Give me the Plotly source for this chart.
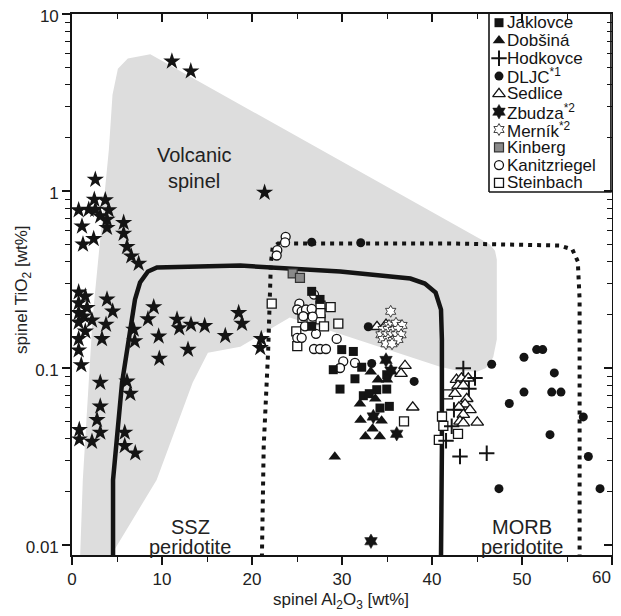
import plotly.graph_objects as go

# ---------------- data ----------------
# Volcanic spinel field (grey area)
field_x = [0.9, 1.2, 2.3, 4.1, 4.5, 5.1, 6.2, 8.7, 46.4, 47.0, 47.2, 47.2, 46.8, 46.0, 45.0, 42.6,
           40.9, 24.2, 18.7, 15.1, 13.4, 9.4, 4.2]
field_y = [0.0085, 0.0233, 0.195, 1.72, 3.5, 4.9, 5.6, 5.93, 0.50, 0.46, 0.41, 0.145, 0.115, 0.100,
           0.0953, 0.097, 0.1016, 0.193, 0.132, 0.122, 0.0826, 0.0233, 0.0085]

# SSZ peridotite boundary (solid line)
ssz_x = [4.56, 4.56, 5.56, 6.44, 7.0, 7.56, 8.44, 9.44, 18.7, 29.8, 37.6, 39.2, 40.4, 41.0, 41.1, 41.1, 41.0]
ssz_y = [0.0085, 0.0233, 0.0826, 0.165, 0.244, 0.304, 0.351, 0.370, 0.379, 0.351, 0.320, 0.300,
         0.267, 0.214, 0.145, 0.0344, 0.0085]

# MORB peridotite boundary (dotted line)
morb_x = [21.1, 21.3, 21.8, 22.1, 22.3, 22.9, 42.0, 54.2, 55.6, 56.2, 56.4, 56.4]
morb_y = [0.0085, 0.0359, 0.127, 0.394, 0.48, 0.505, 0.505, 0.492, 0.467, 0.40, 0.244, 0.0085]

# Volcanic spinels (stars, no legend entry)
star_x = [2.59, 2.48, 3.70, 0.74, 1.86, 2.59, 4.08, 3.14, 3.89, 1.11, 3.89, 2.41, 1.22, 5.74, 5.74,
          6.11, 6.59, 7.41, 0.74, 1.48, 0.74, 1.67, 0.74, 1.30, 2.22, 0.74, 1.48, 0.74, 0.74, 1.03,
          3.89, 4.52, 3.78, 3.33, 6.86, 6.97, 9.08, 8.44, 9.63, 9.70, 11.67, 11.92, 13.22, 14.74,
          12.89, 17.03, 18.52, 18.89, 21.03, 20.92, 3.14, 6.11, 6.48, 3.14, 2.78, 0.81, 3.14, 0.81,
          2.22, 5.86, 5.86, 7.03, 11.1, 13.2, 21.4]
star_y = [1.16, 0.895, 0.888, 0.780, 0.785, 0.785, 0.780, 0.721, 0.690, 0.632, 0.620, 0.537, 0.499,
          0.662, 0.575, 0.484, 0.428, 0.389, 0.268, 0.254, 0.233, 0.219, 0.205, 0.196, 0.186, 0.181,
          0.161, 0.146, 0.126, 0.104, 0.244, 0.209, 0.176, 0.146, 0.165, 0.142, 0.221, 0.189, 0.151,
          0.113, 0.188, 0.168, 0.176, 0.173, 0.127, 0.152, 0.205, 0.178, 0.146, 0.130, 0.0827,
          0.0840, 0.0716, 0.0607, 0.0509, 0.0448, 0.0432, 0.0396, 0.0384, 0.0432, 0.0363, 0.0330,
          5.4, 4.75, 0.98]

jak_x = [26.63, 27.56, 26.63, 29.97, 31.26, 29.03, 32.19, 31.44, 29.78, 33.86, 34.97, 32.37, 33.03,
         34.22, 35.26, 34.97]
jak_y = [0.271, 0.244, 0.172, 0.127, 0.124, 0.0978, 0.101, 0.0869, 0.0760, 0.0754, 0.0760, 0.0697,
         0.0716, 0.0594, 0.0607, 0.0916]

dob_x = [33.2, 34.0, 35.0, 32.0, 33.7, 32.06, 34.4, 33.4, 32.6, 34.2, 29.2]
dob_y = [0.0953, 0.0859, 0.0859, 0.0628, 0.0670, 0.0509, 0.0503, 0.0453, 0.0410, 0.0410, 0.0315]

hod_x = [43.48, 44.78, 44.1, 42.44, 42.19, 41.56, 43.11, 46.08]
hod_y = [0.0995, 0.0877, 0.0764, 0.0580, 0.0469, 0.0388, 0.0316, 0.0330]

dljc_x = [26.63, 32.08, 32.92, 33.3, 38.02, 46.63, 50.22, 51.63, 52.3, 53.59, 50.22, 53.3, 54.33,
          48.59, 56.81, 53.11, 57.37, 47.44, 58.67]
dljc_y = [0.514, 0.510, 0.171, 0.106, 0.0840, 0.105, 0.115, 0.127, 0.127, 0.0938, 0.0731, 0.0731,
          0.0731, 0.0630, 0.0529, 0.0420, 0.0316, 0.0208, 0.0208]

sed_x = [33.89, 34.89, 37.0, 36.56, 37.86, 42.72, 43.28, 44.03, 42.89, 43.48, 42.56, 43.86, 43.67,
         44.22, 43.0, 43.48, 43.11, 43.48, 45.03]
sed_y = [0.171, 0.176, 0.103, 0.0929, 0.0600, 0.0859, 0.0875, 0.0875, 0.0794, 0.0794, 0.0716,
         0.0670, 0.0624, 0.0580, 0.0600, 0.0545, 0.0499, 0.0488, 0.0493]

zbu_x = [34.89, 35.44, 33.48, 36.08, 33.22]
zbu_y = [0.111, 0.0967, 0.0532, 0.0425, 0.0105]

mer_x = [35.41, 35.22, 36.0, 36.67, 34.56, 35.11, 35.67, 36.22, 34.33, 34.89, 35.44, 36.0, 36.56,
         34.56, 35.11, 35.67, 36.22, 34.89, 35.56]
mer_y = [0.209, 0.174, 0.179, 0.174, 0.165, 0.165, 0.163, 0.165, 0.154, 0.154, 0.154, 0.154, 0.154,
         0.145, 0.145, 0.143, 0.145, 0.137, 0.137]

kin_x = [24.52, 25.33]
kin_y = [0.342, 0.323]

kan_x = [23.74, 23.67, 22.81, 22.74, 26.89, 25.26, 25.03, 25.52, 26.0, 26.63, 25.7, 26.74, 25.89,
         27.11, 25.03, 25.52, 29.41, 26.89, 27.56, 28.22, 30.14, 31.44, 29.78]
kan_y = [0.551, 0.512, 0.463, 0.432, 0.260, 0.231, 0.214, 0.209, 0.214, 0.216, 0.196, 0.195, 0.172,
         0.156, 0.148, 0.148, 0.146, 0.128, 0.128, 0.128, 0.109, 0.107, 0.100]

ste_x = [22.19, 27.61, 28.74, 25.61, 27.61, 29.59, 28.0, 24.92, 25.03, 36.89, 41.78, 41.11, 41.26,
         42.89, 40.76, 27.61]
ste_y = [0.231, 0.225, 0.221, 0.192, 0.188, 0.178, 0.172, 0.161, 0.133, 0.0499, 0.0710, 0.0532,
         0.0471, 0.0424, 0.0393, 0.204]

legend_labels = ["Jaklovce", "Dobšiná", "Hodkovce", "DLJC<sup>*1</sup>", "Sedlice",
                 "Zbudza<sup>*2</sup>", "Merník<sup>*2</sup>", "Kinberg", "Kanitzriegel", "Steinbach"]

x_ticks = [0, 10, 20, 30, 40, 50, 60]
x_ticktext = ["0", "10", "20", "30", "40", "50", ""]   # "60" is drawn separately (right edge)
x_last_label = "60"
x_minor = [5, 15, 25, 35, 45, 55]
y_ticks = [0.01, 0.1, 1, 10]
y_ticktext = ["0.01", "0.1", "1", "10"]
y_minor = [0.02, 0.03, 0.04, 0.05, 0.06, 0.07, 0.08, 0.09,
           0.2, 0.3, 0.4, 0.5, 0.6, 0.7, 0.8, 0.9,
           2, 3, 4, 5, 6, 7, 8, 9]

x_title = "spinel Al<sub>2</sub>O<sub>3</sub> [wt%]"
y_title = "spinel TiO<sub>2</sub> [wt%]"

# ---------------- styles ----------------
BLK = "#141414"
FONT = "Liberation Sans, Arial"
styles = {
    "Jaklovce": dict(symbol="square", size=9, color=BLK, line=dict(width=0)),
    "Dobšiná": dict(symbol="triangle-up", size=11, color=BLK, line=dict(width=0)),
    "Hodkovce": dict(symbol="cross-thin-open", size=11, color=BLK, line=dict(width=2, color=BLK)),
    "DLJC": dict(symbol="circle", size=9, color=BLK, line=dict(width=0)),
    "Sedlice": dict(symbol="triangle-up", size=11, color="white", line=dict(width=1.3, color=BLK)),
    "Zbudza": dict(symbol="hexagram", size=11, color=BLK, line=dict(width=0.5, color=BLK)),
    "Merník": dict(symbol="hexagram", size=9, color="white", line=dict(width=0.8, color=BLK)),
    "Kinberg": dict(symbol="square", size=9, color="#8a8a8a", line=dict(width=1.2, color="#333")),
    "Kanitzriegel": dict(symbol="circle", size=9, color="white", line=dict(width=1.3, color=BLK)),
    "Steinbach": dict(symbol="square", size=9, color="white", line=dict(width=1.3, color=BLK)),
}

fig = go.Figure()

# grey volcanic field
fig.add_trace(go.Scatter(x=field_x, y=field_y, mode="lines", fill="toself", fillcolor="#dddddd",
                         line=dict(width=0, color="#dddddd"), hoverinfo="skip", showlegend=False))
# SSZ boundary
fig.add_trace(go.Scatter(x=ssz_x, y=ssz_y, mode="lines", line=dict(color=BLK, width=4.5),
                         hoverinfo="skip", showlegend=False))
# MORB boundary
fig.add_trace(go.Scatter(x=morb_x, y=morb_y, mode="lines",
                         line=dict(color=BLK, width=4, dash="4px,5px"),
                         hoverinfo="skip", showlegend=False))
# stars
fig.add_trace(go.Scatter(x=star_x, y=star_y, mode="markers", name="volcanic",
                         marker=dict(symbol="star", size=13, color=BLK, line=dict(width=0)),
                         showlegend=False))

order = [("Steinbach", ste_x, ste_y), ("Kanitzriegel", kan_x, kan_y), ("Kinberg", kin_x, kin_y),
         ("Jaklovce", jak_x, jak_y), ("Dobšiná", dob_x, dob_y), ("Sedlice", sed_x, sed_y),
         ("Hodkovce", hod_x, hod_y), ("DLJC", dljc_x, dljc_y), ("Zbudza", zbu_x, zbu_y),
         ("Merník", mer_x, mer_y)]
for name, xs, ys in order:
    fig.add_trace(go.Scatter(x=xs, y=ys, mode="markers", name=name, marker=styles[name],
                             showlegend=False))

# dummy trace for mirrored (inward) axes
fig.add_trace(go.Scatter(x=[None], y=[None], xaxis="x2", yaxis="y2", showlegend=False,
                         hoverinfo="skip"))

# ---------------- layout geometry (screen px; page body adds an 8px offset) ----------------
BODY = 8
L, T = 72, 14          # plot-area origin in the screenshot
W, H = 540, 541        # plot-area size
FIG_W, FIG_H = 621 - BODY, 616 - BODY

def px_x(p):
    return (p - L) / W
def px_y(p):
    return 1 - (p - T) / H

box_x0, box_x1 = px_x(489), 0.998
box_y0, box_y1 = px_y(192), px_y(12)
fig.add_trace(go.Scatter(x=[box_x0, box_x1, box_x1, box_x0, box_x0],
                         y=[box_y0, box_y0, box_y1, box_y1, box_y0],
                         mode="lines", fill="toself", fillcolor="white",
                         line=dict(color=BLK, width=1.6), xaxis="x3", yaxis="y3",
                         hoverinfo="skip", showlegend=False))
leg_keys = ["Jaklovce", "Dobšiná", "Hodkovce", "DLJC", "Sedlice", "Zbudza", "Merník",
            "Kinberg", "Kanitzriegel", "Steinbach"]
annotations = []
for i, (key, lab) in enumerate(zip(leg_keys, legend_labels)):
    ry = px_y(22.7 + i * 17.8)
    fig.add_trace(go.Scatter(x=[px_x(499)], y=[ry], mode="markers", marker=styles[key],
                             xaxis="x3", yaxis="y3", hoverinfo="skip", showlegend=False))
    annotations.append(dict(x=px_x(505), y=ry, xref="paper", yref="paper", text=lab,
                            showarrow=False, xanchor="left", yanchor="middle",
                            font=dict(size=17, color=BLK, family=FONT)))

# field labels
def lab(text, x, y, size=20, angle=0, xanchor="center"):
    annotations.append(dict(x=px_x(x), y=px_y(y), xref="paper", yref="paper", text=text,
                            showarrow=False, xanchor=xanchor, yanchor="middle", textangle=angle,
                            font=dict(size=size, color="#222", family=FONT)))
lab("Volcanic", 194, 155)
lab("spinel", 194, 181)
lab("SSZ", 190, 527)
lab("peridotite", 190, 547)
lab("MORB", 522, 527)
lab("peridotite", 522, 547)
# axis titles
lab(x_title, 341, 601, size=17)
lab(y_title, 23, 290, size=17, angle=-90)
# last x tick label, kept inside the page edge
annotations.append(dict(x=1.0, y=px_y(577), xref="paper", yref="paper", text=x_last_label,
                        showarrow=False, xanchor="right", yanchor="middle", xshift=1,
                        font=dict(size=17, color="#222", family=FONT)))

tickfont = dict(size=17, color="#222", family=FONT)
yr = [-2.0566, 1.0]

fig.update_layout(
    width=FIG_W, height=FIG_H,
    margin=dict(l=L - BODY, r=FIG_W - (L - BODY) - W, t=T - BODY, b=FIG_H - (T - BODY) - H,
                autoexpand=False),
    paper_bgcolor="white", plot_bgcolor="white",
    showlegend=False,
    font=dict(family=FONT, color="#222"),
    annotations=annotations,
    xaxis=dict(range=[0, 60], tickvals=x_ticks, ticktext=x_ticktext, ticks="outside", ticklen=8,
               tickwidth=1.5, tickcolor=BLK, showline=True, linecolor=BLK, linewidth=1.6,
               showgrid=False, zeroline=False, tickfont=tickfont, automargin=False,
               minor=dict(tickvals=x_minor, ticks="outside", ticklen=5, tickwidth=1.2,
                          tickcolor=BLK, showgrid=False)),
    yaxis=dict(type="log", range=yr, tickvals=y_ticks, ticktext=y_ticktext, ticks="outside",
               ticklen=8, tickwidth=1.5, tickcolor=BLK, showline=True, linecolor=BLK,
               linewidth=1.6, showgrid=False, zeroline=False, tickfont=tickfont, automargin=False,
               ticklabeloverflow="allow", ticklabelshift=2,
               minor=dict(tickvals=y_minor, ticks="outside", ticklen=5, tickwidth=1.2,
                          tickcolor=BLK, showgrid=False)),
    xaxis2=dict(overlaying="x", side="top", range=[0, 60], tickvals=x_ticks, ticks="inside",
                ticklen=8, tickwidth=1.5, tickcolor=BLK, showticklabels=False, showline=True,
                linecolor=BLK, linewidth=1.6, showgrid=False, zeroline=False, automargin=False,
                minor=dict(tickvals=x_minor, ticks="inside", ticklen=5, tickwidth=1.2,
                           tickcolor=BLK, showgrid=False)),
    yaxis2=dict(overlaying="y", side="right", type="log", range=yr, tickvals=y_ticks,
                ticks="inside", ticklen=8, tickwidth=1.5, tickcolor=BLK, showticklabels=False,
                showline=True, linecolor=BLK, linewidth=1.6, showgrid=False, zeroline=False,
                automargin=False,
                minor=dict(tickvals=y_minor, ticks="inside", ticklen=5, tickwidth=1.2,
                           tickcolor=BLK, showgrid=False)),
    xaxis3=dict(overlaying="x", range=[0, 1], visible=False, fixedrange=True),
    yaxis3=dict(overlaying="y", range=[0, 1], visible=False, fixedrange=True),
)

fig.write_html("out.html")
